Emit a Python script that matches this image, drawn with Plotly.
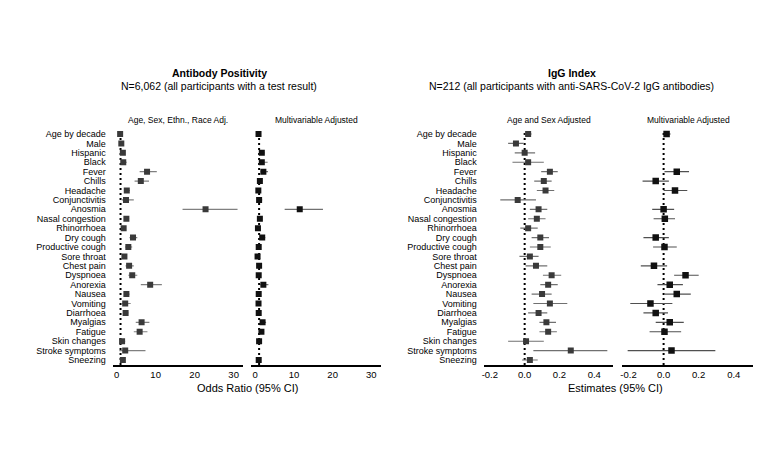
import plotly.graph_objects as go

# ---------------- data ----------------
categories = ["Age by decade", "Male", "Hispanic", "Black", "Fever", "Chills", "Headache",
              "Conjunctivitis", "Anosmia", "Nasal congestion", "Rhinorrhoea", "Dry cough",
              "Productive cough", "Sore throat", "Chest pain", "Dyspnoea", "Anorexia", "Nausea",
              "Vomiting", "Diarrhoea", "Myalgias", "Fatigue", "Skin changes", "Stroke symptoms",
              "Sneezing"]

# Antibody positivity, Age/Sex/Ethnicity/Race adjusted (odds ratios)
ab_adj_or = [0.9, 1.2, 1.6, 1.7, 7.8, 6.2, 2.6, 2.4, 22.8, 2.5, 1.8, 4.2, 3.0, 2.0, 3.2, 4.0,
             8.6, 2.5, 2.2, 2.3, 6.4, 5.9, 1.4, 2.2, 1.6]
ab_adj_lo = [0.8, 1.0, 1.2, 1.1, 5.9, 4.6, 2.0, 1.3, 16.9, 1.9, 1.3, 3.3, 2.2, 1.5, 2.3, 3.0,
             6.2, 1.9, 1.4, 1.7, 4.9, 4.4, 0.9, 0.7, 1.1]
ab_adj_hi = [1.0, 1.4, 2.1, 2.6, 10.3, 8.3, 3.4, 4.4, 31.0, 3.2, 2.4, 5.3, 4.0, 2.6, 4.4, 5.3,
             11.6, 3.3, 3.6, 3.0, 8.4, 7.9, 2.2, 7.4, 2.2]

# Antibody positivity, multivariable adjusted
ab_mv_or = [0.85, None, 1.7, 1.7, 2.1, 1.2, 0.8, 1.0, 11.5, 1.2, 0.7, 1.8, 0.9, 0.6, 1.0, 0.9,
            2.1, 0.9, 0.85, 0.9, 1.9, 1.6, 1.0, None, 0.9]
ab_mv_lo = [0.75, None, 1.2, 1.0, 1.4, 0.8, 0.6, 0.6, 7.6, 0.9, 0.5, 1.2, 0.6, 0.4, 0.7, 0.7,
            1.3, 0.7, 0.5, 0.7, 1.3, 1.1, 0.7, None, 0.6]
ab_mv_hi = [0.95, None, 2.4, 3.2, 3.3, 1.8, 1.1, 1.8, 17.5, 1.6, 1.0, 2.6, 1.2, 0.9, 1.4, 1.3,
            3.4, 1.2, 1.3, 1.2, 2.8, 2.3, 1.4, None, 1.2]

# IgG index, age and sex adjusted (estimates)
igg_adj_est = [0.02, -0.05, 0.0, 0.02, 0.145, 0.11, 0.12, -0.04, 0.08, 0.07, 0.02, 0.09, 0.09,
               0.03, 0.065, 0.155, 0.135, 0.10, 0.145, 0.08, 0.125, 0.135, 0.008, 0.265, 0.03]
igg_adj_lo = [0.0, -0.095, -0.057, -0.07, 0.095, 0.055, 0.07, -0.14, 0.03, 0.02, -0.025, 0.04,
              0.03, -0.03, 0.005, 0.105, 0.09, 0.04, 0.05, 0.02, 0.085, 0.085, -0.095, 0.05, -0.015]
igg_adj_hi = [0.04, -0.005, 0.06, 0.11, 0.19, 0.155, 0.17, 0.065, 0.13, 0.12, 0.075, 0.14, 0.15,
              0.08, 0.13, 0.21, 0.19, 0.155, 0.245, 0.13, 0.18, 0.185, 0.11, 0.475, 0.075]

# IgG index, multivariable adjusted
igg_mv_est = [0.017, None, None, None, 0.075, -0.045, 0.065, None, 0.0, 0.007, None, -0.045,
              0.005, None, -0.055, 0.125, 0.035, 0.075, -0.075, -0.045, 0.035, 0.005, None,
              0.045, None]
igg_mv_lo = [0.0, None, None, None, 0.005, -0.12, 0.0, None, -0.065, -0.057, None, -0.115,
             -0.06, None, -0.13, 0.06, -0.035, 0.005, -0.19, -0.115, -0.045, -0.08, None,
             -0.205, None]
igg_mv_hi = [0.04, None, None, None, 0.145, 0.03, 0.135, None, 0.06, 0.065, None, 0.03,
             0.075, None, 0.02, 0.2, 0.11, 0.155, 0.05, 0.025, 0.115, 0.1, None, 0.295, None]

or_ticks = [0, 10, 20, 30]
or_ticktext = ["0", "10", "20", "30"]
est_ticks = [-0.2, 0.0, 0.2, 0.4]
est_ticktext = ["-0.2", "0.0", "0.2", "0.4"]
or_null = 1
est_null = 0

# ---------------- figure ----------------
W, H = 763, 463
FONT = "Liberation Sans, Arial, sans-serif"
rows = list(range(len(categories)))


def px_x(p):
    return p / W


def px_y(p):
    return 1 - p / H


def add_panel(fig, est, lo, hi, xa, ya, mcolor, msize, lcolor):
    xs, ys, ep, em = [], [], [], []
    for i, (e, l, h) in enumerate(zip(est, lo, hi)):
        if e is None:
            continue
        xs.append(e)
        ys.append(rows[i])
        ep.append(h - e)
        em.append(e - l)
    fig.add_trace(go.Scatter(
        x=xs, y=ys, mode="markers", xaxis=xa, yaxis=ya,
        marker=dict(symbol="square", size=msize, color=mcolor),
        error_x=dict(type="data", symmetric=False, array=ep, arrayminus=em,
                     color=lcolor, thickness=1.1, width=0),
        showlegend=False, hoverinfo="skip"))


fig = go.Figure()
add_panel(fig, ab_adj_or, ab_adj_lo, ab_adj_hi, "x", "y", "#3a3a3a", 6, "#808080")
add_panel(fig, ab_mv_or, ab_mv_lo, ab_mv_hi, "x2", "y", "#111111", 6, "#707070")
add_panel(fig, igg_adj_est, igg_adj_lo, igg_adj_hi, "x3", "y2", "#3a3a3a", 6, "#707070")
add_panel(fig, igg_mv_est, igg_mv_lo, igg_mv_hi, "x4", "y2", "#111111", 6.5, "#505050")

y_dom = [px_y(357), px_y(118)]
y_range = [24.53, -0.85]

xcommon = dict(showline=True, linecolor="black", linewidth=2, showgrid=False, zeroline=False,
               ticks="", tickfont=dict(family=FONT, size=9.5, color="black"))
ycommon = dict(domain=y_dom, range=y_range, showgrid=False, zeroline=False, showline=False,
               ticks="", tickvals=rows, ticktext=categories, ticklabelstandoff=6,
               tickfont=dict(family=FONT, size=9, color="black"))

fig.update_layout(
    width=W, height=H, margin=dict(l=0, r=0, t=0, b=0),
    paper_bgcolor="white", plot_bgcolor="white",
    font=dict(family=FONT, color="black"),
    xaxis=dict(domain=[px_x(103), px_x(234)], range=[-1, 32.5], tickvals=or_ticks,
               ticktext=or_ticktext, anchor="y", **xcommon),
    xaxis2=dict(domain=[px_x(242), px_x(372)], range=[-1, 32.5], tickvals=or_ticks,
                ticktext=or_ticktext, anchor="y", **xcommon),
    xaxis3=dict(domain=[px_x(475), px_x(605)], range=[-0.235, 0.51], tickvals=est_ticks,
                ticktext=est_ticktext, anchor="y2", **xcommon),
    xaxis4=dict(domain=[px_x(614), px_x(745)], range=[-0.235, 0.51], tickvals=est_ticks,
                ticktext=est_ticktext, anchor="y2", **xcommon),
    yaxis=dict(anchor="x", **ycommon),
    yaxis2=dict(anchor="x3", **ycommon),
)

# reference (null-effect) dotted lines
for xa, ya, ref in [("x", "y", or_null), ("x2", "y", or_null),
                    ("x3", "y2", est_null), ("x4", "y2", est_null)]:
    fig.add_shape(type="line", xref=xa, yref=ya + " domain", x0=ref, x1=ref, y0=0, y1=0.975,
                  line=dict(color="black", width=2, dash="2px,3px"), layer="below")

annots = [
    ("<b>Antibody Positivity</b>", 210, 65, 10.5),
    ("N=6,062 (all participants with a test result)", 210, 78, 10.5),
    ("<b>IgG Index</b>", 563, 65, 10.5),
    ("N=212 (all participants with anti-SARS-CoV-2 IgG antibodies)", 563, 78, 10.5),
    ("Age, Sex, Ethn., Race Adj.", 168, 112, 8.5),
    ("Multivariable Adjusted", 307, 112, 8.5),
    ("Age and Sex Adjusted", 540, 112, 8.5),
    ("Multivariable Adjusted", 680, 112, 8.5),
    ("Odds Ratio (95% CI)", 238, 380, 11),
    ("Estimates (95% CI)", 607, 380, 11),
]
for text, x, y, size in annots:
    fig.add_annotation(text=text, x=px_x(x), y=px_y(y), xref="paper", yref="paper",
                       xanchor="center", yanchor="middle", showarrow=False,
                       font=dict(family=FONT, size=size, color="black"))

fig.write_html("out.html")
